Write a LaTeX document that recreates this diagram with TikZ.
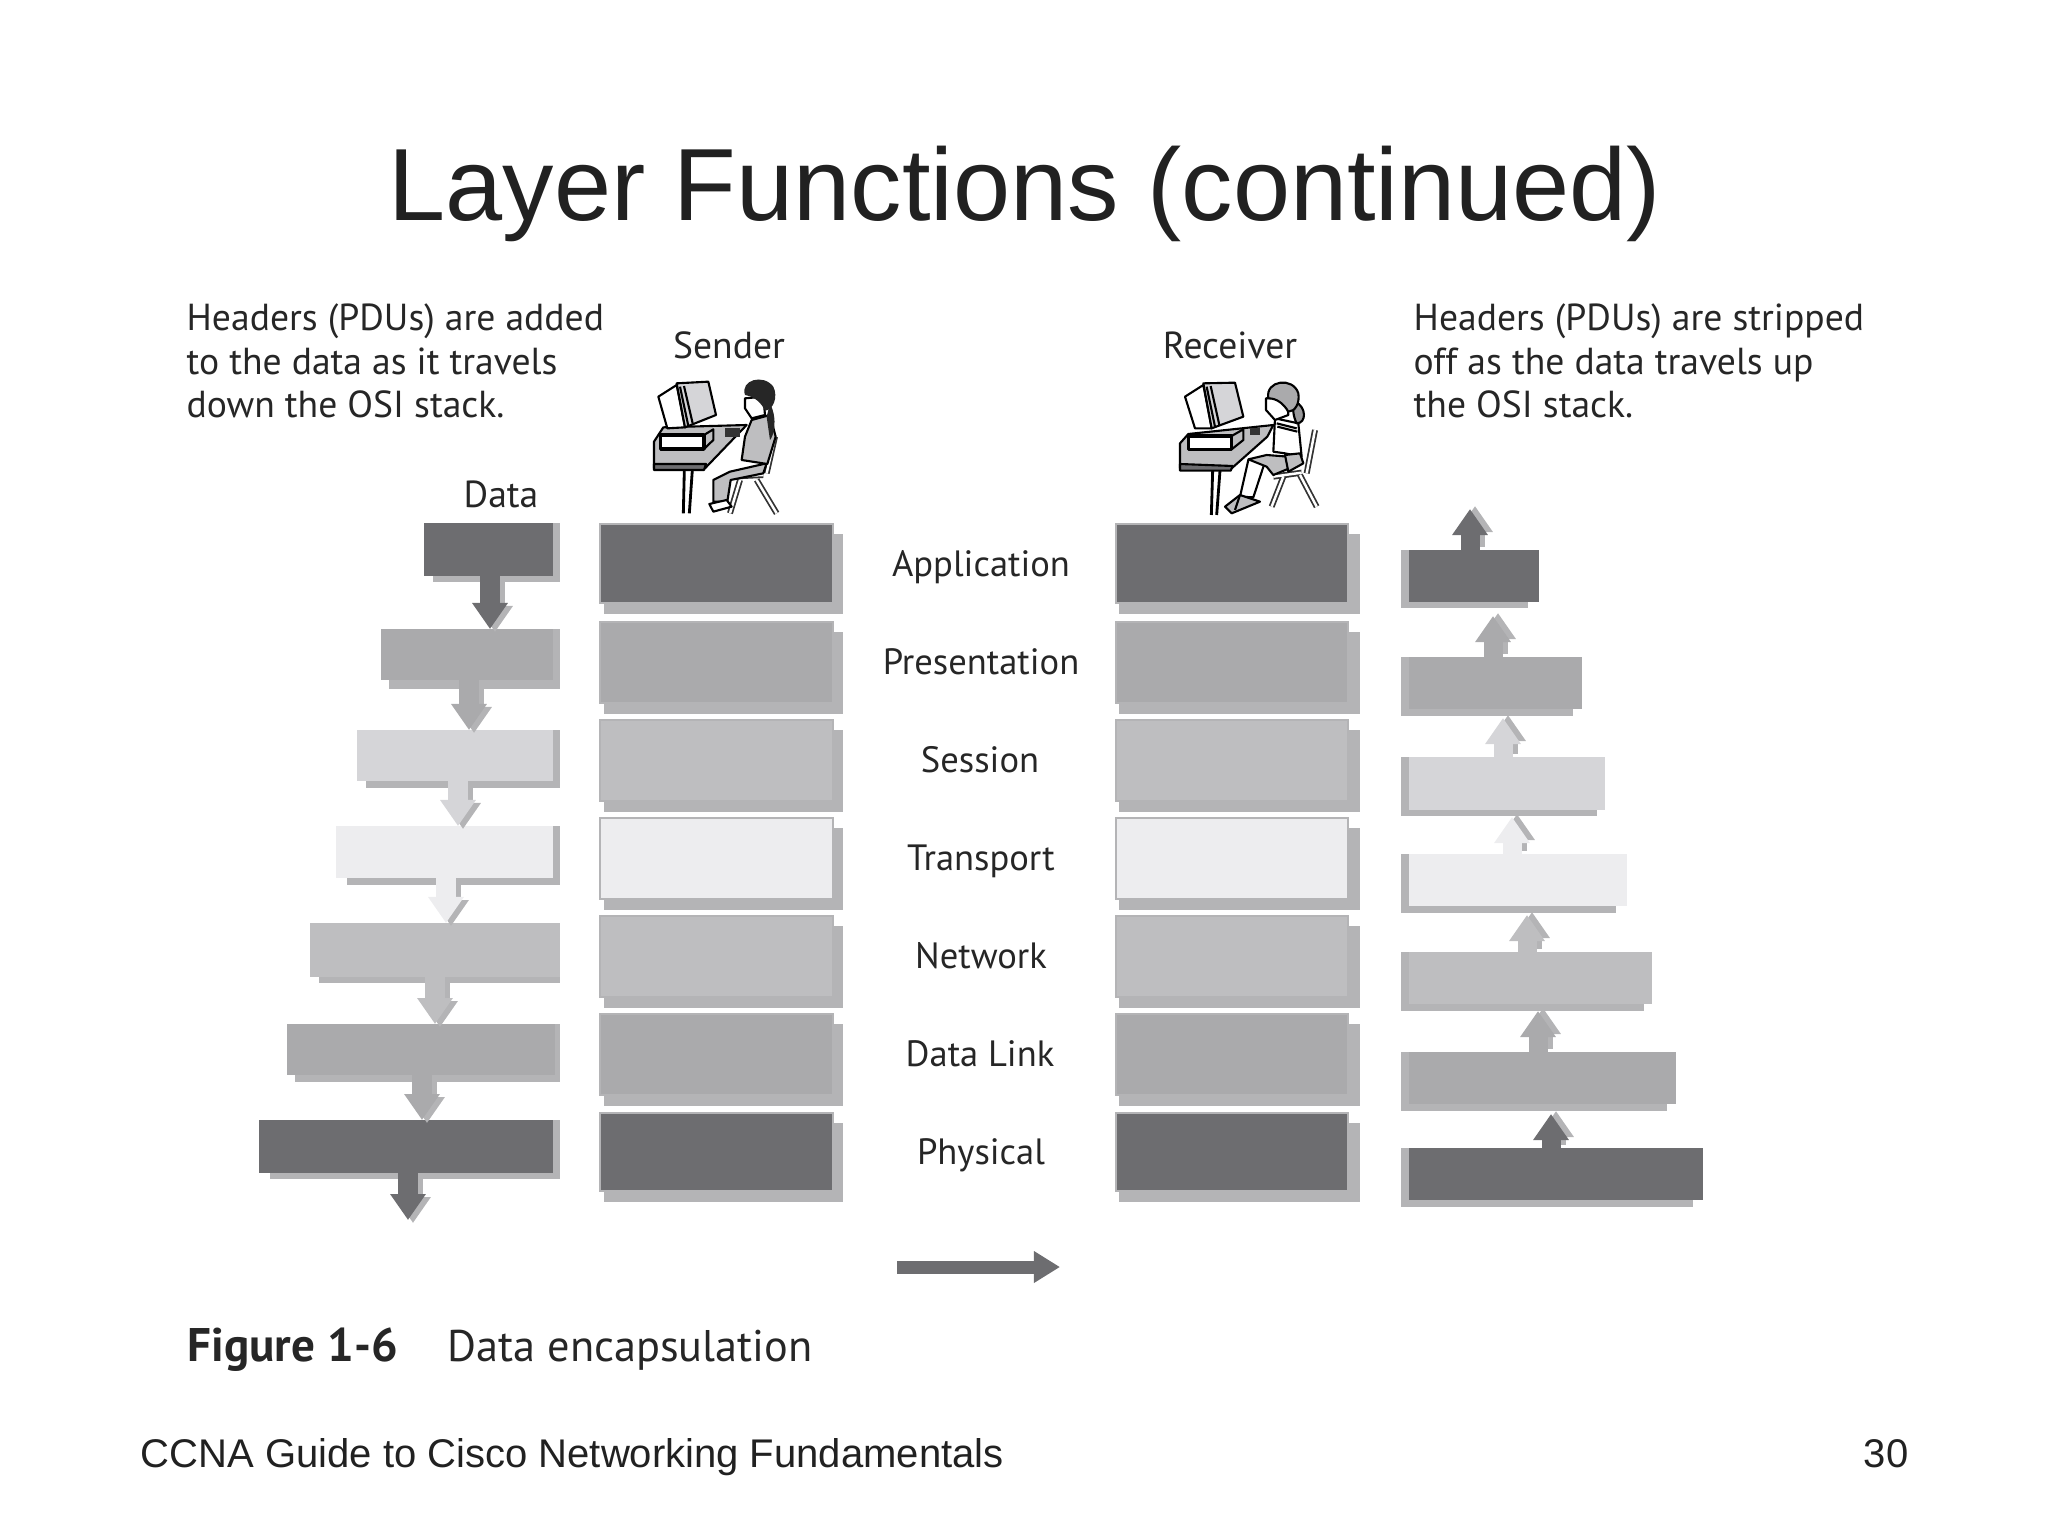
\documentclass[tikz,border=0pt]{standalone}
\usepackage{fontspec}
\setmainfont{Liberation Sans}
\newfontfamily\figfont{PT Sans}
\usepackage{tikz}
\usetikzlibrary{arrows.meta}

\definecolor{boxdark}{HTML}{6D6D70}
\definecolor{boxmid}{HTML}{AAAAAC}
\definecolor{boxsoft}{HTML}{BEBEC0}
\definecolor{boxpale}{HTML}{D5D5D8}
\definecolor{boxwhite}{HTML}{EDEDEF}
\definecolor{boxshade}{HTML}{B4B4B6}

\begin{document}
\begin{tikzpicture}[
      x=0.01cm, y=-0.01cm,
      layer/.style={rectangle,inner sep=0pt,outer sep=0pt,anchor=north west},
      figtext/.style={font=\figfont\fontsize{10.7}{12.4}\selectfont,text=black!85,inner sep=0pt},
      stacktext/.style={figtext,anchor=base,font=\figfont\fontsize{10.4}{12.6}\selectfont},
      pdu/.style={line width=0.19cm,-{Triangle[length=0.26cm,width=0.34cm]}},
      pdushadedown/.style={pdu,boxshade,transform canvas={xshift=0.05cm,yshift=-0.03cm}},
      pdushadeup/.style={pdu,boxshade,transform canvas={xshift=0.05cm,yshift=0.03cm}},
      outline/.style={draw=black,line width=0.6pt,line join=round},
      chairleg/.style={draw=black!80,double=white,double distance=0.7pt,line width=0.5pt}
      ]
      \useasboundingbox (0,0) rectangle (2048,1536);

      % slide texts
      \node[inner sep=0pt,anchor=base,font=\fontsize{29.2}{36}\selectfont,text=black!87] (title) at (1025,220) {Layer Functions (continued)};
      \node[inner sep=0pt,anchor=base west,font=\fontsize{11.38}{14}\selectfont,text=black!87] (footer) at (140,1467) {CCNA Guide to Cisco Networking Fundamentals};
      \node[inner sep=0pt,anchor=base east,font=\fontsize{11.38}{14}\selectfont,text=black!87] (pageno) at (1909,1467) {30};

      % the two stacks
      \foreach \n/\ya/\yb/\col in {1/524/603/boxdark,2/622/703/boxmid,3/720/801/boxsoft,4/818/899/boxwhite,5/916/997/boxsoft,6/1014/1095/boxmid,7/1113/1191/boxdark}{
        \fill[boxshade] (604,\ya+10) rectangle (843,\yb+11);
        \fill[boxshade] (1119,\ya+10) rectangle (1360,\yb+11);
        \node[layer,fill=\col,draw=boxshade,line width=0.5pt,minimum width=2.33cm,minimum height={(\yb-\ya)*0.01cm}] (s\n) at (600,\ya) {};
        \node[layer,fill=\col,draw=boxshade,line width=0.5pt,minimum width=2.32cm,minimum height={(\yb-\ya)*0.01cm}] (r\n) at (1116,\ya) {};
      }

      % headers on the way down
      \foreach \n/\xa/\xb/\ya/\yb/\sa/\sb/\col in {1/424/553/523/576/433/582/boxdark,2/381/553/629/680/389/689/boxmid,3/357/553/730/781/366/788/boxpale,4/336/553/826/878/347/885/boxwhite,5/310/560/923/977/319/983/boxsoft,6/287/555/1024/1075/295/1082/boxmid,7/259/553/1120/1173/270/1179/boxdark}{
        \fill[boxshade] (\sa,\ya) rectangle (560,\sb);
        \node[layer,fill=\col,minimum width={(\xb-\xa)*0.01cm},minimum height={(\yb-\ya)*0.01cm}] (d\n) at (\xa,\ya) {};
      }

      % headers on the way up
      \foreach \n/\xb/\ya/\yb/\sb/\sc/\col in {1/1539/550/602/1528/608/boxdark,2/1582/657/709/1573/716/boxmid,3/1605/757/810/1597/816/boxpale,4/1627/854/906/1616/913/boxwhite,5/1652/952/1004/1644/1011/boxsoft,6/1676/1052/1104/1667/1111/boxmid,7/1703/1148/1200/1693/1207/boxdark}{
        \fill[boxshade] (1401,\ya) rectangle (\sb,\sc);
        \node[layer,fill=\col,minimum width={(\xb-1409)*0.01cm},minimum height={(\yb-\ya)*0.01cm}] (u\n) at (1409,\ya) {};
      }

      \coordinate (dend) at (410,1220);
      \coordinate (uend) at (1472,509);

      \foreach \a/\b/\x/\col in {d1/d2/490/boxdark,d2/d3/469/boxmid,d3/d4/458/boxpale,d4/d5/446/boxwhite,d5/d6/435/boxsoft,d6/d7/422/boxmid}{
        \draw[pdushadedown] (\a.south -| \x,0) -- (\b.north -| \x,0);
        \draw[pdu,\col] (\a.south -| \x,0) -- (\b.north -| \x,0);
      }
      \draw[pdushadedown] (d7.south -| 408,0) -- (dend -| 408,0);
      \draw[pdu,boxdark] (d7.south -| 408,0) -- (dend -| 408,0);

      \foreach \a/\b/\x/\gap/\col in {u7/u6/1551/0.10/boxdark,u6/u5/1538/0.07/boxmid,u5/u4/1527/0.09/boxsoft,u4/u3/1512/0.07/boxwhite,u3/u2/1503/0.09/boxpale,u2/u1/1493/0.14/boxmid}{
        \draw[pdushadeup,shorten >=\gap cm] (\a.north -| \x,0) -- (\b.south -| \x,0);
        \draw[pdu,\col,shorten >=\gap cm] (\a.north -| \x,0) -- (\b.south -| \x,0);
      }
      \draw[pdushadeup] (u1.north -| 1470,0) -- (uend -| 1470,0);
      \draw[pdu,boxdark] (u1.north -| 1470,0) -- (uend -| 1470,0);

      % figure labels
      \node[figtext,anchor=north west,align=left] (added) at (186,303) {Headers (PDUs) are added\\to the data as it travels\\down the OSI stack.};
      \node[figtext,anchor=north west,align=left] (stripped) at (1413,303) {Headers (PDUs) are stripped\\off as the data travels up\\the OSI stack.};
      \node[figtext,anchor=base] (sender) at (729,358) {Sender};
      \node[figtext,anchor=base] (receiver) at (1230,358) {Receiver};
      \node[figtext,anchor=base] (data) at (501,507) {Data};
      \node[stacktext] (application) at (981,576) {Application};
      \node[stacktext] (presentation) at (981,674) {Presentation};
      \node[stacktext] (session) at (980,772) {Session};
      \node[stacktext] (transport) at (981,870) {Transport};
      \node[stacktext] (network) at (981,968) {Network};
      \node[stacktext] (datalink) at (980,1066) {Data Link};
      \node[stacktext] (physical) at (981,1164) {Physical};
      \node[figtext,anchor=base west,font=\figfont\bfseries\fontsize{13.4}{16}\selectfont] (fignum) at (187,1361) {Figure 1-6};
      \node[figtext,anchor=base west,font=\figfont\fontsize{12.6}{16}\selectfont] (figname) at (447,1361) {Data encapsulation};

      % flow arrow under the stacks
      \coordinate (flowa) at (897,1267);
      \coordinate (flowb) at (1060,1267);
      \draw[boxdark,line width=0.13cm,-{Triangle[length=0.26cm,width=0.30cm]}] (flowa) -- (flowb);

      % sender at the desk
      \begin{scope}[shift={(630,340)},scale=0.3333]
        \fill[boxsoft,outline] (72,305) -- (100,262) -- (350,255) -- (225,385) -- (72,385) -- cycle;
        \fill[boxdark,outline] (72,372) -- (228,372) -- (222,390) -- (72,390) -- cycle;
        \draw[line width=0.8pt] (163,390) -- (160,520) (187,390) -- (178,520);
        \fill[white,outline] (85,170) -- (140,135) -- (165,262) -- (112,265) -- cycle;
        \fill[boxpale,outline] (140,130) -- (235,125) -- (258,225) -- (165,262) -- cycle;
        \draw[outline] (150,140) -- (175,258) (162,138) -- (188,250);
        \fill[boxsoft,outline] (222,285) -- (250,268) -- (250,300) -- (222,327) -- cycle;
        \fill[white,outline,line width=1pt] (92,285) rectangle (222,327);
        \fill[black!80] (285,265) rectangle (330,290);
        \draw[chairleg] (300,410) -- (400,405) (435,290) -- (410,400) (330,420) -- (300,520) (380,420) -- (440,520);
        \fill[boxsoft,outline] (410,370) -- (300,395) -- (250,420) -- (250,485) -- (292,485) -- (302,420) -- (400,400) -- cycle;
        \fill[white,outline] (238,492) -- (290,480) -- (305,500) -- (250,515) -- cycle;
        \fill[boxsoft,outline] (365,240) -- (420,225) -- (437,290) -- (412,372) -- (335,360) -- (345,290) -- cycle;
        \fill[black!85] (420,190) .. controls (445,240) and (430,290) .. (420,300) -- (410,230) -- cycle;
        \fill[white,outline] (345,175) -- (345,205) -- (365,235) -- (405,225) -- (400,170) -- cycle;
        \fill[black!85] (345,165) .. controls (330,120) and (400,100) .. (430,140) .. controls (445,170) and (430,210) .. (405,212) .. controls (395,190) and (375,170) .. cycle;
      \end{scope}

      % receiver at the desk
      \begin{scope}[shift={(1160,360)},scale=0.3333]
        \fill[boxsoft,outline] (60,250) -- (85,222) -- (340,195) -- (322,230) -- (215,325) -- (60,325) -- cycle;
        \fill[boxdark,outline] (60,312) -- (218,318) -- (212,332) -- (60,332) -- cycle;
        \draw[line width=0.8pt] (158,332) -- (154,465) (180,332) -- (170,465);
        \fill[white,outline] (75,110) -- (130,75) -- (155,205) -- (105,205) -- cycle;
        \fill[boxpale,outline] (130,70) -- (225,68) -- (250,170) -- (155,205) -- cycle;
        \draw[outline] (140,80) -- (165,200) (152,78) -- (178,195);
        \fill[boxsoft,outline] (215,228) -- (250,208) -- (250,240) -- (215,268) -- cycle;
        \fill[white,outline,line width=1pt] (85,228) rectangle (215,268);
        \fill[black!80] (270,205) rectangle (300,225);
        \draw[chairleg] (340,350) -- (425,338) (465,210) -- (440,340) (370,350) -- (335,440) (420,345) -- (470,440);
        \fill[white,outline] (265,300) -- (320,290) -- (280,412) -- (240,410) -- cycle;
        \fill[boxsoft,outline] (195,440) -- (240,405) -- (300,425) -- (215,460) -- cycle;
        \draw[outline] (240,405) -- (225,450);
        \fill[boxsoft,outline] (265,298) -- (320,285) -- (385,290) -- (400,320) -- (340,345) -- (320,320) -- cycle;
        \fill[white,outline] (345,175) -- (415,190) -- (425,290) -- (375,280) -- (340,275) -- cycle;
        \draw[outline] (350,190) -- (410,205) (352,200) -- (412,215);
        \fill[boxsoft,outline] (375,285) -- (420,280) -- (430,310) -- (385,335) -- cycle;
        \fill[white,outline] (318,115) -- (318,150) -- (345,180) -- (385,165) -- (380,110) -- cycle;
        \fill[boxdark!70!white,outline] (405,125) .. controls (440,140) and (440,190) .. (410,190) .. controls (400,170) and (395,140) .. cycle;
        \fill[boxmid,outline] (325,115) .. controls (315,60) and (400,50) .. (415,100) .. controls (420,130) and (405,155) .. (385,155) .. controls (370,130) and (350,115) .. cycle;
      \end{scope}
    \end{tikzpicture}
\end{document}
